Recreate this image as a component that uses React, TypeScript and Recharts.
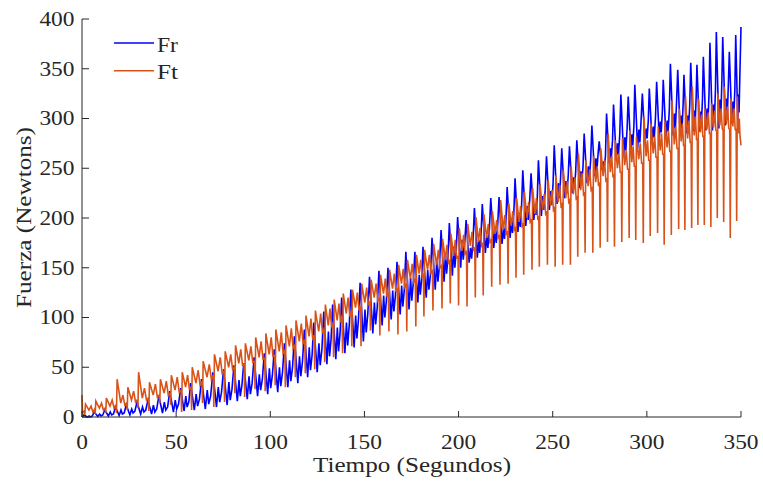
import React from 'react';
import { LineChart, Line, XAxis, YAxis, Legend, Label } from 'recharts';

// dip times of the orange trace (one entry per oscillation cycle), seconds
const cycleT = [
  1.5, 7.0, 12.6, 18.3, 24.0, 29.7, 35.5, 41.3, 47.1, 52.9,
  58.2, 64.0, 70.0, 75.7, 81.2, 86.4, 91.9, 97.3, 102.6, 108.0,
  113.3, 118.6, 123.6, 128.9, 133.6, 138.4, 143.3, 148.2, 153.2, 158.2,
  163.0, 167.8, 172.5, 177.3, 181.6, 186.4, 191.2, 195.6, 200.0, 204.5,
  208.9, 213.1, 217.6, 222.0, 226.3, 230.5, 234.6, 239.0, 242.9, 247.2,
  251.3, 255.3, 259.4, 263.3, 267.2, 271.3, 275.2, 279.1, 282.8, 286.7,
  290.6, 294.1, 298.1, 301.8, 305.7, 309.2, 313.0, 316.9, 320.2, 323.8,
  327.1, 330.5, 334.0, 337.4, 340.8, 344.3, 347.7,
];

// Ft (tangential force) per cycle
const ftPre = [
  6, 8, 9, 12, 14, 17, 19, 22, 24, 27,
  30, 36, 42, 46, 50, 53, 56, 59, 62, 67,
  72, 77, 82, 88, 94, 100, 106, 111, 116, 120,
  125, 130, 134, 139, 143, 148, 152, 157, 162, 166,
  170, 174, 178, 182, 186, 190, 194, 198, 202, 206,
  210, 214, 218, 222, 226, 230, 236, 240, 243, 246,
  249, 252, 255, 258, 261, 264, 267, 270, 273, 276,
  279, 282, 285, 287, 288, 289, 290,
];
const ftDip = [
  2, 3, 4, 4, 7, 9, 6, 14, 12, 5,
  7, 14, 10, 15, 24, 20, 28, 26, 32, 30,
  40, 44, 48, 55, 60, 64, 71, 71, 87, 82,
  86, 83, 86, 91, 101, 107, 109, 114, 112, 111,
  120, 122, 131, 133, 134, 140, 143, 148, 151, 153,
  151, 153, 153, 161, 165, 165, 170, 176, 171, 176,
  180, 178, 175, 182, 185, 173, 183, 189, 188, 190,
  193, 193, 191, 200, 196, 180, 197,
];
const ftPeak = [
  13, 16, 19, 38, 30, 45, 35, 38, 42, 45,
  50, 56, 63, 66, 72, 74, 80, 84, 88, 92,
  97, 102, 107, 113, 118, 124, 128, 134, 138, 143,
  148, 153, 158, 163, 168, 174, 179, 184, 190, 194,
  201, 204, 207, 218, 215, 220, 226, 230, 234, 238,
  243, 248, 252, 265, 258, 262, 270, 285, 278, 280,
  288, 282, 302, 295, 292, 298, 318, 310, 322, 332,
  320, 310, 315, 325, 332, 320, 322,
];
const ftMid = [
  7, 9, 11, 14, 17, 19, 22, 24, 27, 30,
  34, 40, 46, 50, 54, 57, 60, 63, 66, 71,
  76, 81, 86, 92, 97, 104, 110, 115, 120, 124,
  129, 134, 139, 144, 148, 153, 158, 162, 167, 172,
  176, 180, 184, 188, 192, 196, 200, 204, 208, 212,
  216, 220, 224, 228, 232, 236, 242, 246, 250, 253,
  256, 259, 262, 265, 268, 271, 274, 277, 280, 283,
  286, 289, 291, 293, 294, 292, 285,
];
const ftHi2 = [
  11, 14, 17, 22, 26, 29, 33, 36, 40, 42,
  47, 53, 60, 63, 68, 71, 76, 80, 85, 89,
  94, 99, 104, 109, 114, 120, 125, 130, 134, 139,
  144, 149, 154, 158, 163, 168, 173, 178, 183, 186,
  190, 194, 198, 203, 207, 212, 216, 220, 224, 228,
  233, 237, 241, 245, 249, 252, 258, 262, 265, 268,
  272, 275, 278, 282, 285, 288, 292, 295, 298, 302,
  304, 306, 308, 310, 312, 310, 300,
];
const ftLo2 = [
  5, 7, 9, 12, 15, 17, 20, 22, 25, 28,
  32, 38, 44, 48, 52, 55, 58, 61, 64, 69,
  74, 79, 84, 90, 95, 101, 107, 112, 117, 121,
  126, 131, 136, 141, 145, 150, 155, 159, 164, 168,
  172, 176, 180, 184, 188, 192, 196, 200, 204, 208,
  212, 216, 220, 224, 228, 232, 238, 242, 246, 249,
  252, 255, 258, 261, 264, 267, 270, 273, 276, 279,
  282, 285, 288, 290, 290, 288, 282,
];

// Fr (radial force) per cycle
const frPeak = [
  2, 5, 7, 10, 12, 15, 17, 21, 26, 29,
  34, 38, 45, 48, 52, 54, 60, 64, 68, 74,
  81, 88, 95, 106, 113, 120, 128, 135, 141, 147,
  150, 156, 166, 166, 171, 180, 188, 195, 201, 198,
  210, 214, 220, 221, 231, 240, 248, 245, 258, 262,
  273, 270, 272, 278, 285, 293, 277, 305, 314, 324,
  322, 334, 325, 330, 337, 339, 355, 349, 344, 356,
  354, 362, 376, 387, 382, 367, 384,
];
const frTrough = [
  0, 0.5, 1, 1.5, 2, 3, 3, 4, 5, 6,
  7, 8, 10, 12, 16, 18, 21, 23, 25, 30,
  34, 40, 45, 53, 58, 64, 70, 76, 84, 92,
  98, 103, 108, 115, 120, 128, 136, 142, 150, 155,
  160, 165, 170, 174, 180, 186, 192, 198, 202, 208,
  214, 220, 225, 230, 235, 242, 248, 255, 258, 262,
  268, 270, 275, 276, 280, 281, 283, 283, 285, 287,
  287, 288, 288, 290, 293, 295, 298,
];
const frHi = [
  1, 3, 5, 7, 8, 10, 12, 15, 17, 21,
  23, 27, 30, 35, 37, 41, 43, 49, 50, 57,
  61, 70, 74, 86, 90, 95, 102, 108, 115, 122,
  127, 132, 140, 143, 148, 157, 165, 171, 178, 170,
  178, 182, 188, 190, 198, 205, 212, 214, 222, 227,
  235, 237, 241, 247, 252, 260, 257, 270, 275, 281,
  284, 289, 290, 292, 297, 298, 305, 303, 303, 308,
  307, 310, 314, 319, 320, 317, 324,
];
const frLo = [
  0, 1, 2, 3, 4, 5, 5, 7, 8, 10,
  11, 13, 15, 17, 21, 23, 27, 29, 31, 36,
  41, 47, 52, 61, 66, 72, 79, 85, 93, 100,
  106, 111, 117, 123, 128, 136, 144, 150, 158, 159,
  165, 170, 175, 179, 185, 191, 198, 203, 208, 213,
  220, 225, 230, 235, 240, 247, 251, 260, 264, 268,
  273, 276, 280, 281, 286, 287, 290, 290, 291, 294,
  294, 295, 297, 300, 302, 302, 306,
];
const frRise = [
  1, 2, 3, 4, 6, 7, 8, 10, 13, 15,
  18, 21, 25, 28, 32, 34, 38, 42, 45, 50,
  56, 62, 68, 78, 84, 92, 98, 104, 110, 117,
  122, 128, 135, 138, 143, 152, 160, 167, 174, 176,
  183, 188, 193, 196, 204, 211, 218, 220, 228, 233,
  240, 243, 247, 252, 258, 265, 262, 278, 284, 290,
  293, 300, 298, 302, 307, 309, 318, 315, 314, 321,
  320, 325, 330, 338, 337, 330, 340,
];

const ftStart = [22, 4];
const ftEnd = 273;
const frStart = 0;
const frEnd = 392;

const END_T = 350;
const xTicks = [0, 50, 100, 150, 200, 250, 300, 350];
const yTicks = [0, 50, 100, 150, 200, 250, 300, 350, 400];

const AXIS = '#262626';
const FONT = '"Liberation Serif", "Times New Roman", Times, serif';
const textStyle = { fontFamily: FONT };

const period = (k: number) => (k < cycleT.length - 1 ? cycleT[k + 1] : END_T) - cycleT[k];

const ftData: { t: number; v: number }[] = [
  { t: 0, v: ftStart[0] },
  { t: 0.3, v: ftStart[1] },
];
cycleT.forEach((td, k) => {
  const p = period(k);
  ftData.push({ t: td - 0.3, v: ftPre[k] });
  ftData.push({ t: td, v: ftDip[k] });
  ftData.push({ t: td + 0.35, v: ftPeak[k] });
  ftData.push({ t: td + 0.4 * p, v: ftMid[k] });
  ftData.push({ t: td + 0.6 * p, v: ftHi2[k] });
  ftData.push({ t: td + 0.78 * p, v: ftLo2[k] });
});
ftData.push({ t: END_T, v: ftEnd });

const frData: { t: number; v: number }[] = [{ t: 0, v: frStart }];
cycleT.forEach((td, k) => {
  const p = period(k);
  frData.push({ t: td - 0.5, v: frPeak[k] });
  frData.push({ t: td + 0.25 * p, v: frTrough[k] });
  frData.push({ t: td + 0.42 * p, v: frHi[k] });
  frData.push({ t: td + 0.55 * p, v: frLo[k] });
  frData.push({ t: td + 0.72 * p, v: frRise[k] });
});
frData.push({ t: END_T, v: frEnd });

const XTick = (props: any) => {
  const s = String(props.payload.value);
  return (
    <text x={props.x} y={448.5} textAnchor="middle" fontSize={20} style={textStyle} fill={AXIS}
      textLength={s.length * 11.7} lengthAdjust="spacingAndGlyphs">
      {s}
    </text>
  );
};

const YTick = (props: any) => {
  const s = String(props.payload.value);
  return (
    <text x={74.5} y={props.y + 6.8} textAnchor="end" fontSize={20} style={textStyle} fill={AXIS}
      textLength={s.length * 11.7} lengthAdjust="spacingAndGlyphs">
      {s}
    </text>
  );
};

const legendRows = [43, 70.7];

const renderLegend = (props: any) => {
  const { payload } = props;
  return (
    <svg width={220} height={100} style={{ display: 'block' }}>
      {(payload || []).map((entry: any, i: number) => (
        <g key={`legend-${i}`}>
          <line x1={114} x2={154} y1={legendRows[i]} y2={legendRows[i]} stroke={entry.color} strokeWidth={1.4} />
          <text x={157} y={legendRows[i] + 8.6} fontSize={21} style={textStyle} fill={AXIS}
            textLength={21} lengthAdjust="spacingAndGlyphs">
            {entry.value}
          </text>
        </g>
      ))}
    </svg>
  );
};

export default function App() {
  return (
    <div style={{ position: 'absolute', left: 0, top: 0, width: 763, height: 483, background: '#fff' }}>
      <LineChart width={763} height={483} margin={{ top: 19, right: 22, bottom: 0, left: 0 }}>
        <XAxis type="number" dataKey="t" domain={[0, 350]} ticks={xTicks} interval={0} height={66}
          tickSize={-6} tick={XTick} axisLine={{ stroke: AXIS }} tickLine={{ stroke: AXIS }}>
          <Label content={() => (
            <text x={412} y={472} textAnchor="middle" fontSize={22} style={textStyle} fill={AXIS}
              textLength={198} lengthAdjust="spacingAndGlyphs">
              Tiempo (Segundos)
            </text>
          )} />
        </XAxis>
        <YAxis type="number" dataKey="v" domain={[0, 400]} ticks={yTicks} interval={0} width={82}
          tickSize={-7} tick={YTick} axisLine={{ stroke: AXIS }} tickLine={{ stroke: AXIS }}>
          <Label content={() => (
            <text x={31} y={217.5} transform="rotate(-90 31 217.5)" textAnchor="middle" fontSize={22}
              style={textStyle} fill={AXIS} textLength={181} lengthAdjust="spacingAndGlyphs">
              Fuerza (Newtons)
            </text>
          )} />
        </YAxis>
        <Legend content={renderLegend} layout="vertical" align="center" verticalAlign="middle"
          wrapperStyle={{ left: 0, top: 0, width: 220, height: 100, pointerEvents: 'none' }} />
        <Line data={frData} dataKey="v" name="Fr" type="linear" stroke="#0000FF" strokeWidth={1.6}
          dot={false} activeDot={false} isAnimationActive={false} />
        <Line data={ftData} dataKey="v" name="Ft" type="linear" stroke="#D95319" strokeWidth={1.6}
          dot={false} activeDot={false} isAnimationActive={false} />
      </LineChart>
    </div>
  );
}
